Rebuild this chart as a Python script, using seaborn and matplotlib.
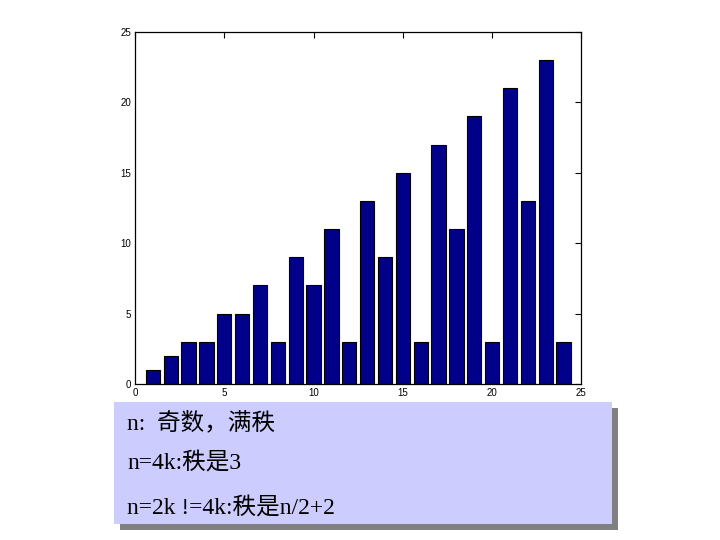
import matplotlib
matplotlib.use("Agg")
import matplotlib.pyplot as plt
import seaborn as sns
import pandas as pd
from matplotlib.patches import Rectangle

n_values = list(range(1, 25))
ranks = [1, 2, 3, 3, 5, 5, 7, 3, 9, 7, 11, 3, 13, 9, 15, 3, 17, 11, 19, 3, 21, 13, 23, 3]
x_ticks = [0, 5, 10, 15, 20, 25]
y_ticks = [0, 5, 10, 15, 20, 25]
notes = ["n:  奇数，满秩", "n=4k:秩是3", "n=2k !=4k:秩是n/2+2"]

sns.set_theme(style="white")
plt.rcParams['font.family'] = ['Liberation Sans', 'DejaVu Sans']

df = pd.DataFrame({"n": n_values, "rank": ranks})

fig = plt.figure(figsize=(7.2, 5.4), dpi=100)
ax = fig.add_axes([0.1875, 0.289, 0.62, 0.652])
sns.barplot(data=df, x="n", y="rank", native_scale=True, width=0.8,
            color="#000088", saturation=1, edgecolor="black", linewidth=0.8, ax=ax)
ax.set_xlim(0, 25)
ax.set_ylim(0, 25)
ax.set_xticks(x_ticks)
ax.set_yticks(y_ticks)
ax.set_xlabel("")
ax.set_ylabel("")
ax.tick_params(direction="in", top=True, right=True, length=4, width=0.8,
               labelsize=7, colors="black", pad=3)
for s in ax.spines.values():
    s.set_visible(True)
    s.set_color("black")
    s.set_linewidth(0.9)

W, H = 720, 540
# shadow
fig.patches.append(Rectangle((120 / W, (H - 530) / H), (612 - 114) / W, (524 - 402) / H,
                             transform=fig.transFigure, facecolor="#808080",
                             edgecolor="none", zorder=1))
fig.patches.append(Rectangle((114 / W, (H - 524) / H), (612 - 114) / W, (524 - 402) / H,
                             transform=fig.transFigure, facecolor="#CCCCFF",
                             edgecolor="none", zorder=2))
ys = [423, 464, 509]
for t, yy in zip(notes, ys):
    fig.text(127 / W, (H - yy) / H, t, fontsize=17, va="center", ha="left",
             family=['Liberation Serif', 'Noto Sans CJK SC'], color="black", zorder=3)

fig.savefig("out.png", dpi=100)
